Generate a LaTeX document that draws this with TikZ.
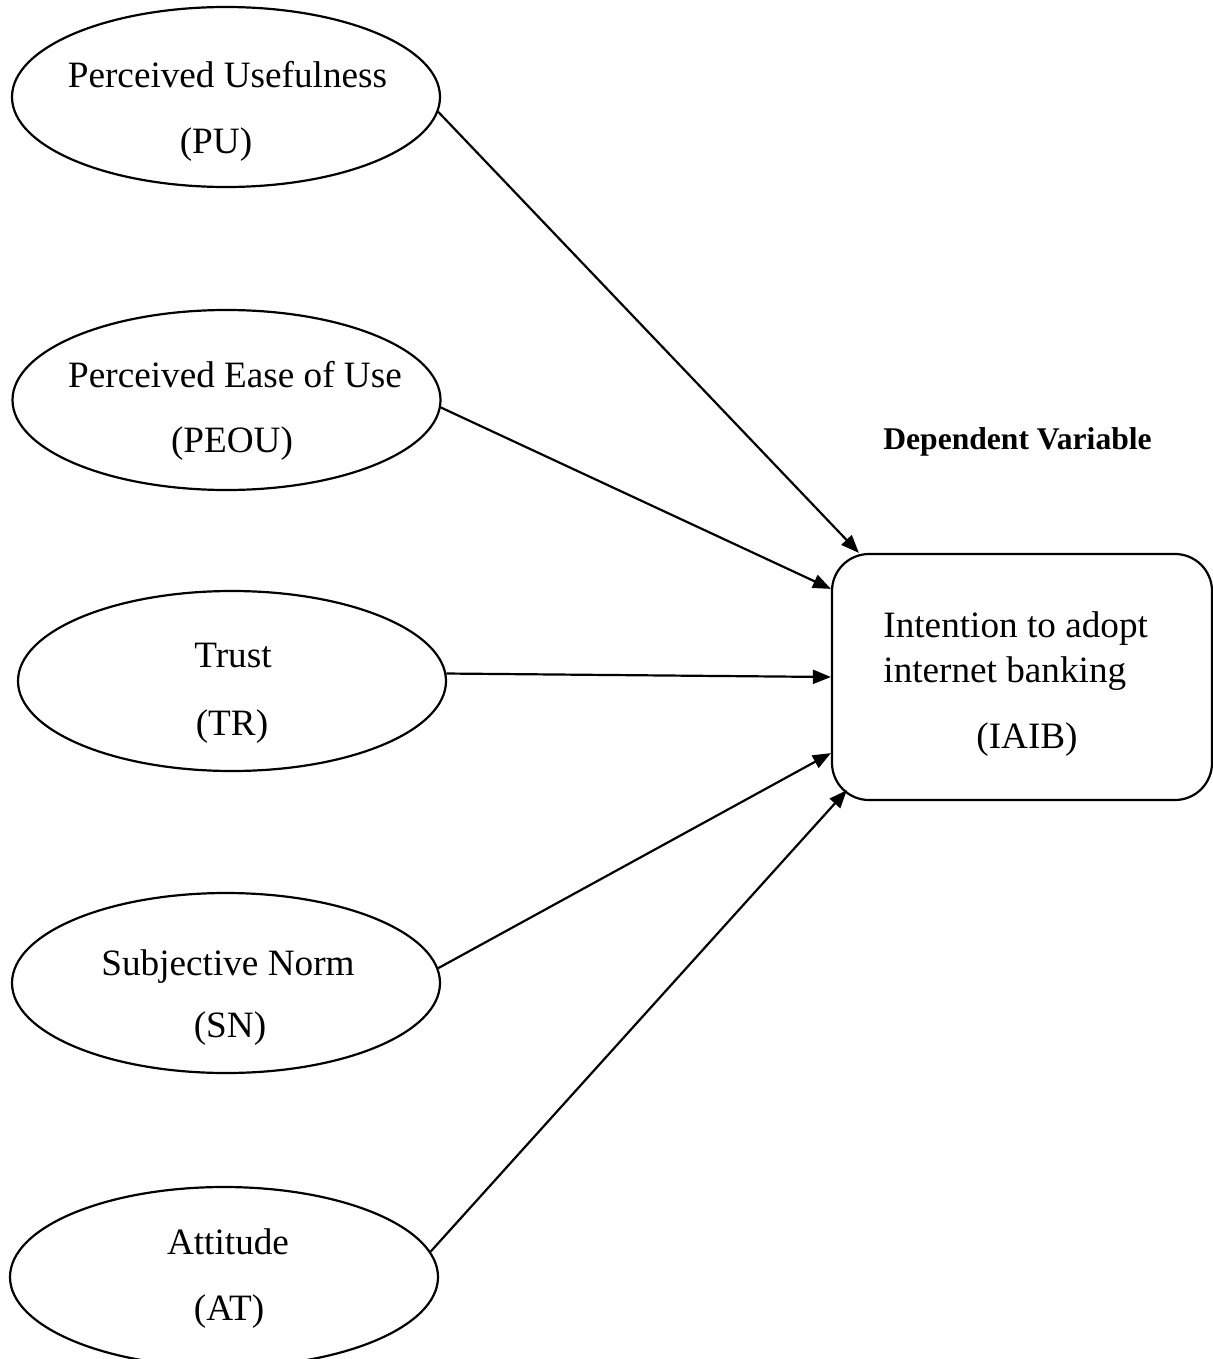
\documentclass[tikz,border=0pt]{standalone}
\usepackage{fontspec}
\setmainfont{Liberation Serif}
\usetikzlibrary{shapes.geometric,arrows.meta,calc}
\begin{document}
\begin{tikzpicture}[x=0.5pt,y=-0.5pt,
  oval/.style={draw,ellipse,line width=1.1pt,inner sep=0pt,minimum width=214pt,minimum height=90pt},
  target/.style={draw,rectangle,rounded corners=18.5pt,line width=1.1pt,inner sep=0pt,minimum width=190pt,minimum height=123pt},
  lbl/.style={inner sep=0pt,anchor=base,font=\fontsize{18.6}{22}\selectfont},
  head/.style={inner sep=0pt,anchor=base,font=\fontsize{15.8}{18}\selectfont\bfseries},
  conn/.style={line width=1.1pt,-{Triangle[length=9pt,width=7pt]}}
]
\useasboundingbox (0,0) rectangle (1213,1359);
\fill[white] (0,0) rectangle (1213,1359);

% ellipses
\node[oval] (pu)   at (226,97)   {};
\node[oval] (peou) at (226.5,400) {};
\node[oval] (tr)   at (232,681)  {};
\node[oval] (sn)   at (226,983)  {};
\node[oval] (at)   at (224,1277) {};

% dependent box
\node[target] (iaib) at (1022,677) {};

% labels
\node[lbl] (pu1) at (227.5,88) {Perceived Usefulness};
\node[lbl] (pu2) at (216,154) {(PU)};
\node[lbl] (peou1) at (235,387) {Perceived Ease of Use};
\node[lbl] (peou2) at (232,452) {(PEOU)};
\node[lbl] (tr1) at (233,667) {Trust};
\node[lbl] (tr2) at (232,735) {(TR)};
\node[lbl] (sn1) at (228,975) {Subjective Norm};
\node[lbl] (sn2) at (230,1037) {(SN)};
\node[lbl] (at1) at (228,1254) {Attitude};
\node[lbl] (at2) at (229,1320) {(AT)};
\node[lbl,anchor=base west] (ia1) at (883,637) {Intention to adopt};
\node[lbl,anchor=base west] (ia2) at (883,682) {internet banking};
\node[lbl] (ia3) at (1027,748) {(IAIB)};
\node[head] (dv) at (1017.5,449) {Dependent Variable};

% connectors
\draw[conn] (pu.-4) -- ($(iaib.north west)+(28,0)$);
\draw[conn] (peou.-2.2) -- ($(iaib.north west)+(0,36)$);
\draw[conn] (tr.2.7) -- (iaib.west);
\draw[conn] (sn.4) -- ($(iaib.south west)+(0,-48)$);
\draw[conn] (at.7) -- ($(iaib.south west)+(16,-11)$);
\end{tikzpicture}
\end{document}
